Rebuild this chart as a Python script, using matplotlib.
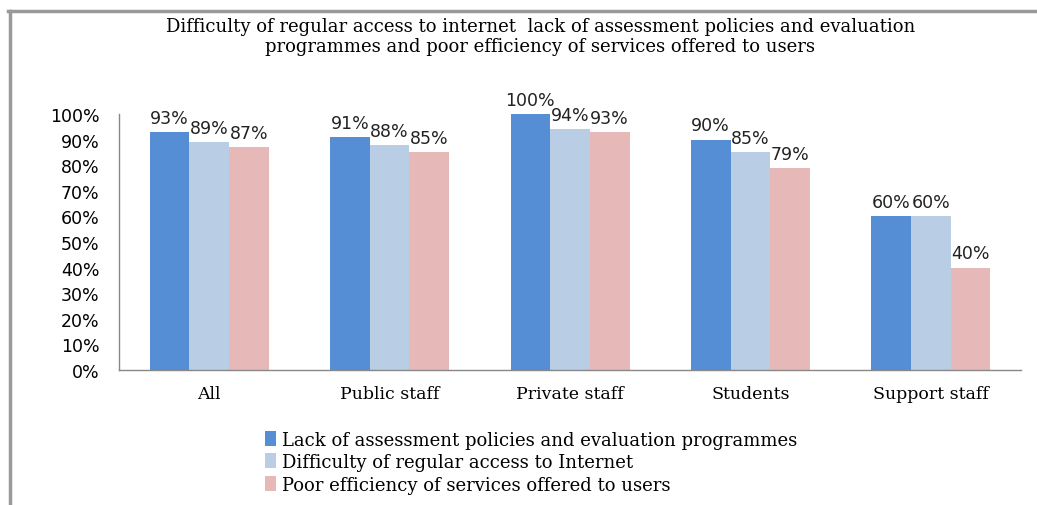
import numpy as np
import matplotlib
matplotlib.use("Agg")
import matplotlib.pyplot as plt
from matplotlib.lines import Line2D
from matplotlib.ticker import PercentFormatter

categories = ["All", "Public staff", "Private staff", "Students", "Support staff"]
series_names = [
    "Lack of assessment policies and evaluation programmes",
    "Difficulty of regular access to Internet",
    "Poor efficiency of services offered to users",
]
lack_assessment = [0.93, 0.91, 1.00, 0.90, 0.60]
internet_access = [0.89, 0.88, 0.94, 0.85, 0.60]
poor_efficiency = [0.87, 0.85, 0.93, 0.79, 0.40]
colors = ["#558ED5", "#B9CDE5", "#E6B9B8"]

title = ("Difficulty of regular access to internet  lack of assessment policies and evaluation\n"
         "programmes and poor efficiency of services offered to users")

serif = "DejaVu Serif"
sans = "DejaVu Sans"

fig = plt.figure(figsize=(10.37, 5.06), dpi=100)
ax = fig.add_axes([0.1148, 0.2668, 0.8698, 0.5059])

x = np.arange(len(categories))
w = 0.22
for i, (vals, name, c) in enumerate(zip([lack_assessment, internet_access, poor_efficiency],
                                        series_names, colors)):
    bars = ax.bar(x + (i - 1) * w, vals, w, color=c, label=name)
    for b, v in zip(bars, vals):
        ax.text(b.get_x() + b.get_width() / 2, v + 0.02, f"{round(v * 100)}%",
                ha="center", va="bottom", fontsize=12.5, family=sans, color="#222222")

ax.set_xlim(-0.5, len(categories) - 0.5)
ax.set_ylim(0, 1.0)
ax.set_yticks(np.arange(0, 1.01, 0.1))
ax.yaxis.set_major_formatter(PercentFormatter(1.0, decimals=0))
ax.set_xticks(x)
ax.set_xticklabels(categories, fontsize=12.5, family=serif)
ax.tick_params(axis="x", length=0, pad=11)
ax.tick_params(axis="y", length=0, pad=14, labelsize=12.5)
for lab in ax.get_yticklabels():
    lab.set_family(sans)
for s in ["top", "right"]:
    ax.spines[s].set_visible(False)
for s in ["left", "bottom"]:
    ax.spines[s].set_color("#888888")
    ax.spines[s].set_linewidth(1)

fig.text(0.521, 0.964, title, ha="center", va="top", fontsize=13, family=serif,
         linespacing=1.1)

fig.legend(loc="upper left", bbox_to_anchor=(0.256, 0.147), frameon=False,
           prop={"family": serif, "size": 13}, handlelength=0.6, handleheight=0.9,
           handletextpad=0.3, labelspacing=0.25, borderaxespad=0, borderpad=0)

# outer frame of the chart
fig.add_artist(Line2D([0.008, 1.0], [0.976, 0.976], color="#999999", lw=2.5,
                      transform=fig.transFigure))
fig.add_artist(Line2D([0.0097, 0.0097], [0.0, 0.976], color="#999999", lw=2.5,
                      transform=fig.transFigure))

fig.savefig("out.png", dpi=100)
